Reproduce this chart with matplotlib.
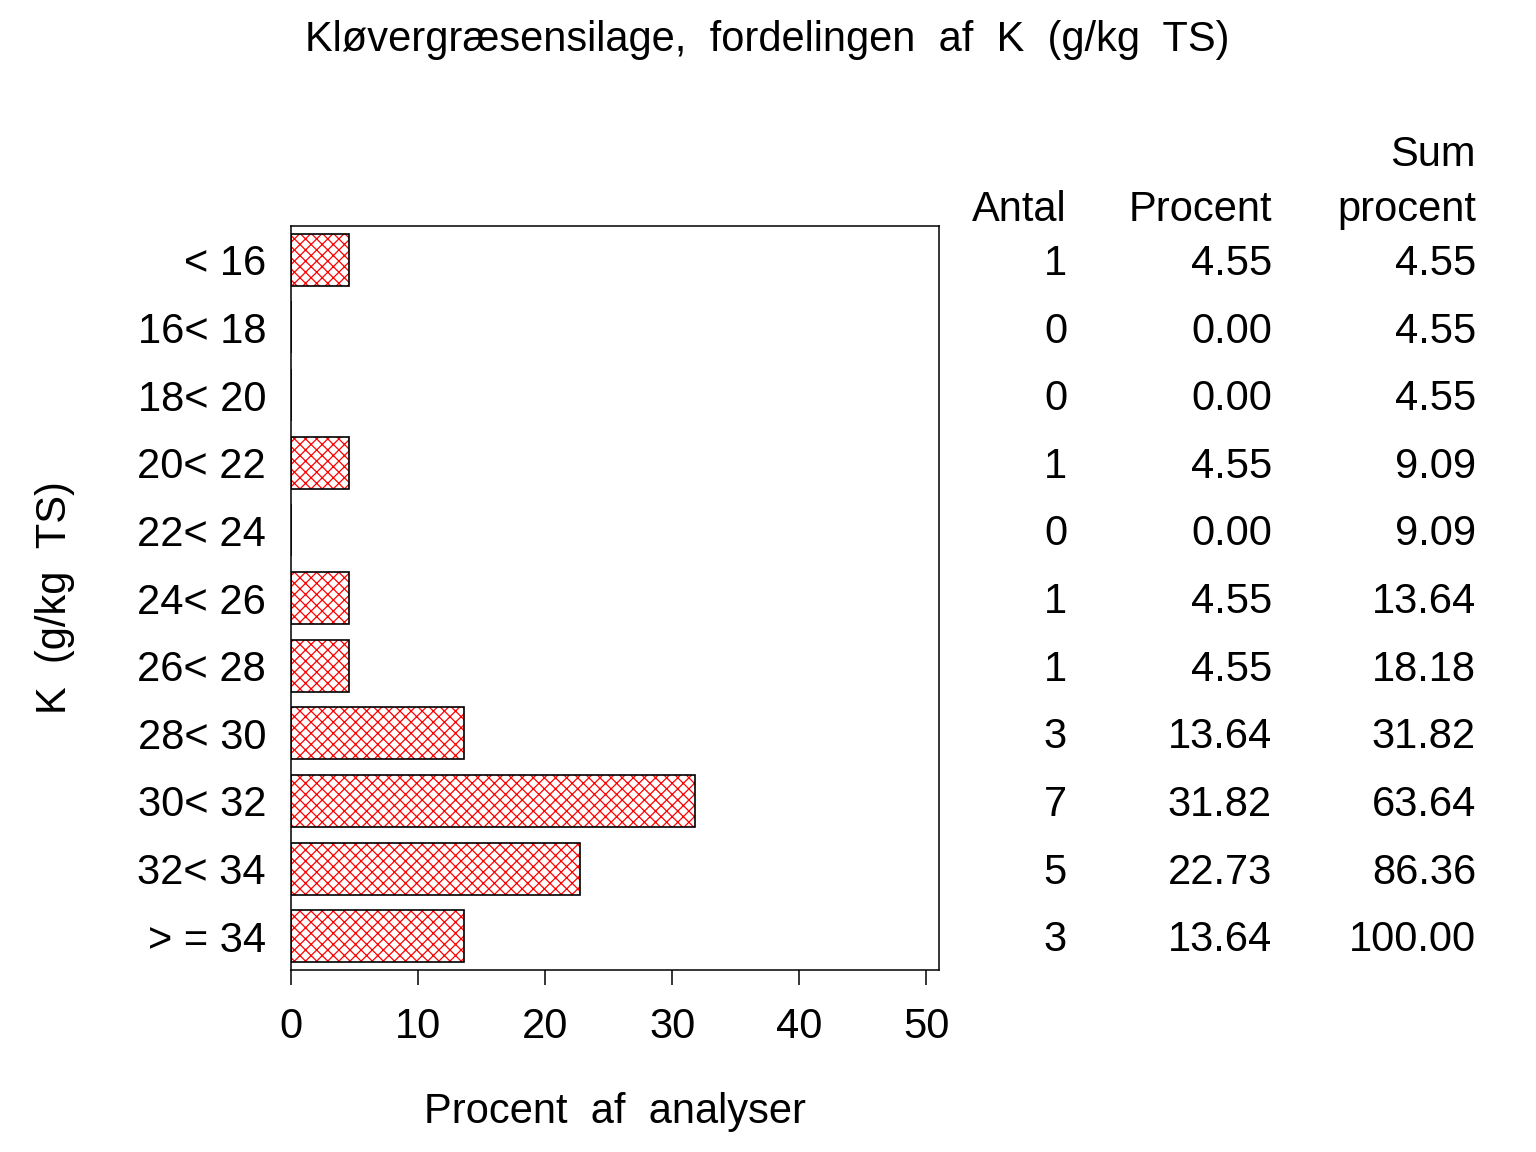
import matplotlib
matplotlib.use("Agg")
import matplotlib.pyplot as plt
import matplotlib.transforms as mtrans
import numpy as np

categories = ["< 16", "16< 18", "18< 20", "20< 22", "22< 24", "24< 26",
              "26< 28", "28< 30", "30< 32", "32< 34", "> = 34"]
antal = [1, 0, 0, 1, 0, 1, 1, 3, 7, 5, 3]
procent = [4.55, 0.00, 0.00, 4.55, 0.00, 4.55, 4.55, 13.64, 31.82, 22.73, 13.64]
sum_procent = [4.55, 4.55, 4.55, 9.09, 9.09, 13.64, 18.18, 31.82, 63.64, 86.36, 100.00]
xticks = [0, 10, 20, 30, 40, 50]

plt.rcParams['font.family'] = ['Liberation Sans', 'DejaVu Sans']
plt.rcParams['hatch.linewidth'] = 0.9
FS = 30

fig = plt.figure(figsize=(15.36, 11.52), dpi=100)
ax = fig.add_axes([291/1536, 1-970/1152, (939-291)/1536, (970-226)/1152])

y = np.arange(len(categories))
ax.barh(y, procent, height=0.77, color='none', edgecolor='red', hatch='xxx', linewidth=0)
ax.barh(y, procent, height=0.77, color='none', edgecolor='black', linewidth=1.2)

ax.set_xlim(0, 51)
ax.set_ylim(len(categories) - 0.5, -0.5)
ax.set_yticks(y)
ax.set_yticklabels(categories, fontsize=FS)
ax.set_xticks(xticks)
ax.set_xticklabels([str(t) for t in xticks], fontsize=FS)
ax.tick_params(axis='y', length=0, pad=18)
ax.tick_params(axis='x', direction='out', length=11, width=1.1, pad=16)
for s in ax.spines.values():
    s.set_linewidth(1.1)

fig.text(615/1536, 1-1112/1152, "Procent  af  analyser", fontsize=FS, ha='center', va='center')
fig.text(55/1536, 1-598/1152, "K  (g/kg  TS)", fontsize=FS, ha='center', va='center', rotation=90)
fig.text(767/1536, 1-40/1152, "Kløvergræsensilage,  fordelingen  af  K  (g/kg  TS)",
         fontsize=FS, ha='center', va='center')

# table
trans = mtrans.blended_transform_factory(fig.transFigure, ax.transData)
cols_x = [1067/1536, 1272/1536, 1476/1536]
for i in range(len(categories)):
    yy = i + 0.06
    ax.text(cols_x[0], yy, f"{antal[i]}", transform=trans, fontsize=FS, ha='right', va='center', clip_on=False)
    ax.text(cols_x[1], yy, f"{procent[i]:.2f}", transform=trans, fontsize=FS, ha='right', va='center', clip_on=False)
    ax.text(cols_x[2], yy, f"{sum_procent[i]:.2f}", transform=trans, fontsize=FS, ha='right', va='center', clip_on=False)

fig.text(cols_x[0], 1-210/1152, "Antal", fontsize=FS, ha='right', va='center')
fig.text(cols_x[1], 1-210/1152, "Procent", fontsize=FS, ha='right', va='center')
fig.text(cols_x[2], 1-210/1152, "procent", fontsize=FS, ha='right', va='center')
fig.text(cols_x[2], 1-155/1152, "Sum", fontsize=FS, ha='right', va='center')

fig.savefig("out.png", dpi=100)
